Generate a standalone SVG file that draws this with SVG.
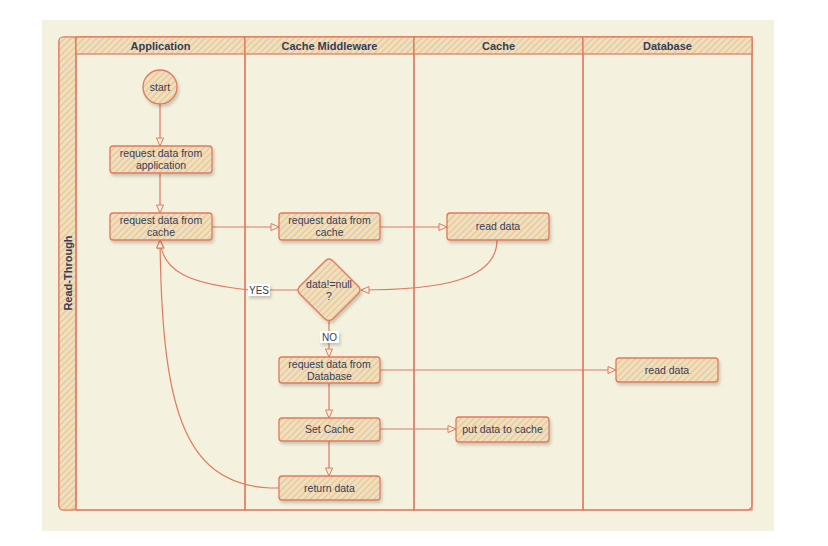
<svg xmlns="http://www.w3.org/2000/svg" width="828" height="546" viewBox="0 0 828 546">
<defs>
<pattern id="hatch" patternUnits="userSpaceOnUse" width="4.5" height="4.5" patternTransform="rotate(45)">
<rect width="4.5" height="4.5" fill="#E9E1CB"/>
<rect x="0" y="0" width="1.8" height="4.5" fill="#F2CC8F"/>
</pattern>
<filter id="sh" x="-20%" y="-20%" width="140%" height="160%">
<feDropShadow dx="1.5" dy="2.5" stdDeviation="1.5" flood-color="#000" flood-opacity="0.18"/>
</filter>
<marker id="arr" markerUnits="userSpaceOnUse" markerWidth="12" markerHeight="10" refX="9" refY="4" orient="auto">
<path d="M1,0.5 L9,4 L1,7.5 Z" fill="#F4F1DE" stroke="#E07A5F" stroke-width="1"/>
</marker>
</defs>
<style>
.node{fill:url(#hatch);stroke:#E07A5F;stroke-width:1.3;filter:url(#sh)}
.lane{fill:none;stroke:#E07A5F;stroke-width:1.2}
.hdr{fill:url(#hatch);stroke:#E07A5F;stroke-width:1.2}
.t{font-family:"Liberation Sans",Arial,sans-serif;font-size:10.5px;fill:#393C56;text-anchor:middle}
.h{font-family:"Liberation Sans",Arial,sans-serif;font-size:11px;font-weight:bold;fill:#393C56;text-anchor:middle}
.c{fill:none;stroke:#E07A5F;stroke-width:1.2;marker-end:url(#arr)}
.lbl{fill:#FFFFFF;filter:url(#sh)}
</style>
<rect x="0" y="0" width="828" height="546" fill="#FFFFFF"/>
<rect x="42" y="20" width="732" height="511" fill="#F4F1DE"/>

<g id="pool">
<rect x="59" y="37" width="693" height="473" rx="5" class="lane"/>
<rect x="59" y="37" width="17" height="473" rx="4" class="hdr"/>
<text class="h" transform="translate(71.5,273) rotate(-90)">Read-Through</text>
</g>
<g id="lane-application">
<rect x="76" y="37" width="169" height="473" class="lane"/>
<rect x="76" y="37" width="169" height="17" class="hdr"/>
<text class="h" x="160.5" y="49.5">Application</text>
</g>
<g id="lane-middleware">
<rect x="245" y="37" width="169" height="473" class="lane"/>
<rect x="245" y="37" width="169" height="17" class="hdr"/>
<text class="h" x="329.5" y="49.5">Cache Middleware</text>
</g>
<g id="lane-cache">
<rect x="414" y="37" width="169" height="473" class="lane"/>
<rect x="414" y="37" width="169" height="17" class="hdr"/>
<text class="h" x="498.5" y="49.5">Cache</text>
</g>
<g id="lane-database">
<rect x="583" y="37" width="169" height="473" class="lane"/>
<rect x="583" y="37" width="169" height="17" class="hdr"/>
<text class="h" x="667.5" y="49.5">Database</text>
</g>

<g id="connectors">
<path class="c" d="M160,104 L160,146"/>
<path class="c" d="M160,173 L160,213"/>
<path class="c" d="M212,227 L279,227"/>
<path class="c" d="M380,227 L447,227"/>
<path class="c" d="M497,240 C497,280 440,290 361,290"/>
<path class="c" d="M298,290 L250,290 C190,284 162,272 160,240"/>
<path class="c" d="M329,321 L329,357"/>
<path class="c" d="M380,370 L616,370"/>
<path class="c" d="M329,383 L329,418"/>
<path class="c" d="M380,429 L456,429"/>
<path class="c" d="M329,441 L329,476"/>
<path class="c" d="M279,488 L270,488 C180,484 162,400 160,240"/>
<rect class="lbl" x="248" y="284" width="22" height="12"/>
<text class="t" x="259" y="294" style="font-size:10px">YES</text>
<rect class="lbl" x="320" y="331" width="19" height="12"/>
<text class="t" x="329.5" y="341" style="font-size:10px">NO</text>
</g>

<g id="start">
<circle cx="160" cy="87" r="17" class="node"/>
<text class="t" x="160" y="91">start</text>
</g>
<g id="req-app">
<rect x="110" y="146" width="102" height="27" rx="3" class="node"/>
<text class="t" x="161" y="157">request data from</text>
<text class="t" x="161" y="169">application</text>
</g>
<g id="req-cache-app">
<rect x="110" y="213" width="102" height="27" rx="3" class="node"/>
<text class="t" x="161" y="224">request data from</text>
<text class="t" x="161" y="236">cache</text>
</g>
<g id="req-cache-mw">
<rect x="279" y="213" width="101" height="27" rx="3" class="node"/>
<text class="t" x="329.5" y="224">request data from</text>
<text class="t" x="329.5" y="236">cache</text>
</g>
<g id="read-cache">
<rect x="447" y="213" width="102" height="27" rx="3" class="node"/>
<text class="t" x="498" y="230">read data</text>
</g>
<g id="decision">
<path d="M329,259 Q331,259 333,261 L359,287 Q361,290 359,293 L333,319 Q329,322 325,319 L299,293 Q297,290 299,287 L325,261 Q327,259 329,259 Z" class="node"/>
<text class="t" x="329" y="288">data!=null</text>
<text class="t" x="329" y="300">?</text>
</g>
<g id="req-db">
<rect x="279" y="357" width="101" height="26" rx="3" class="node"/>
<text class="t" x="329.5" y="367.5">request data from</text>
<text class="t" x="329.5" y="379.5">Database</text>
</g>
<g id="read-db">
<rect x="616" y="358" width="102" height="24" rx="3" class="node"/>
<text class="t" x="667" y="373.5">read data</text>
</g>
<g id="set-cache">
<rect x="279" y="418" width="101" height="23" rx="3" class="node"/>
<text class="t" x="329.5" y="433">Set Cache</text>
</g>
<g id="put-cache">
<rect x="456" y="417" width="93" height="25" rx="3" class="node"/>
<text class="t" x="502.5" y="433">put data to cache</text>
</g>
<g id="return-data">
<rect x="279" y="476" width="101" height="24" rx="3" class="node"/>
<text class="t" x="329.5" y="491.5">return data</text>
</g>
</svg>
